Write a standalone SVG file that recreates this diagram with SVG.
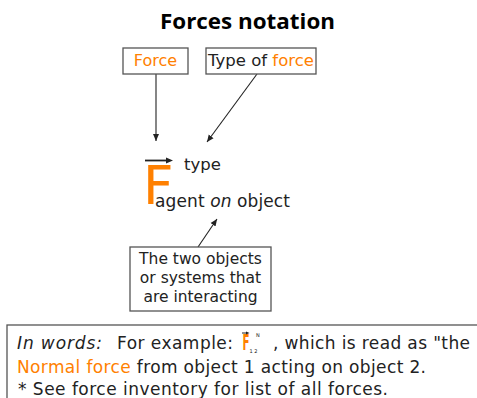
<svg xmlns="http://www.w3.org/2000/svg" width="477" height="398" viewBox="0 0 477 398">
<defs>
<marker id="ah" markerWidth="8" markerHeight="8" refX="7" refY="4" orient="auto" markerUnits="userSpaceOnUse">
<path d="M0,1 L7,4 L0,7 Z" fill="#222"/>
</marker>
<style>
.t{font-family:"DejaVu Sans",Verdana,sans-serif;font-size:15.5px;fill:#222}
.b{font-size:17px}
.o{fill:#FF8000}
.box{fill:#fff;stroke:#555;stroke-width:1.3}
.c{stroke:#222;stroke-width:1.1;fill:none}
</style>
</defs>
<rect width="477" height="398" fill="#fff"/>
<text x="160" y="29" textLength="175" lengthAdjust="spacingAndGlyphs" font-family="'Open Sans',sans-serif" font-weight="bold" font-size="21" fill="#000">Forces notation</text>
<g id="connectors">
<line class="c" x1="156" y1="74" x2="156" y2="141" marker-end="url(#ah)"/>
<line class="c" x1="257" y1="74" x2="207" y2="142" marker-end="url(#ah)"/>
<line class="c" x1="198" y1="247" x2="217" y2="219" marker-end="url(#ah)"/>
</g>
<g id="force">
<rect class="box" x="123" y="48" width="65" height="26"/>
<text class="t o" x="155.5" y="66" text-anchor="middle" style="font-size:16px">Force</text>
</g>
<g id="type-of-force">
<rect class="box" x="206" y="48" width="110" height="26"/>
<text class="t" x="261" y="66" text-anchor="middle" style="font-size:16.5px">Type of <tspan class="o">force</tspan></text>
</g>
<g id="notation">
<text x="143" y="204" font-family="'DejaVu Sans',Verdana,sans-serif" font-size="53" fill="#FF8000">F</text>
<line x1="145" y1="160.5" x2="168" y2="160.5" stroke="#222" stroke-width="1.8"/>
<path d="M166,157.5 L173,160.5 L166,163.5 Z" fill="#222"/>
<text class="t" x="184" y="170" style="font-size:16.5px">type</text>
<text class="t" x="155" y="207" textLength="135" style="font-size:17px">agent <tspan font-style="italic">on</tspan> object</text>
</g>
<g id="two-objects">
<rect class="box" x="130" y="247" width="141" height="64"/>
<text class="t" x="200.5" y="264" text-anchor="middle">The two objects</text>
<text class="t" x="200.5" y="283" text-anchor="middle">or systems that</text>
<text class="t" x="200.5" y="302" text-anchor="middle">are interacting</text>
</g>
<g id="in-words">
<rect class="box" x="7" y="325" width="475" height="80"/>
<text class="t b" x="17" y="349" textLength="85" font-style="italic">In words:</text>
<text class="t b" x="117" y="349" textLength="116">For example:</text>
<text x="0" y="0" transform="translate(242.5,350) scale(0.5,1)" font-family="'DejaVu Sans',sans-serif" font-weight="bold" font-size="20.5" fill="#FF8000">F</text>
<line x1="242" y1="333" x2="247" y2="333" stroke="#222" stroke-width="1"/>
<path d="M246,331.5 L249.5,333 L246,334.5 Z" fill="#222"/>
<text x="256" y="337" font-family="'DejaVu Sans',sans-serif" font-size="5" fill="#222">N</text>
<text x="249.5" y="353" font-family="'DejaVu Sans',sans-serif" font-size="5" fill="#222">1 2</text>
<text class="t b" x="273" y="349" textLength="197">, which is read as "the</text>
<text class="t b" x="17" y="373" textLength="409"><tspan class="o">Normal force</tspan> from object 1 acting on object 2.</text>
<text class="t b" x="18" y="395" textLength="370">* See force inventory for list of all forces.</text>
</g>
</svg>
